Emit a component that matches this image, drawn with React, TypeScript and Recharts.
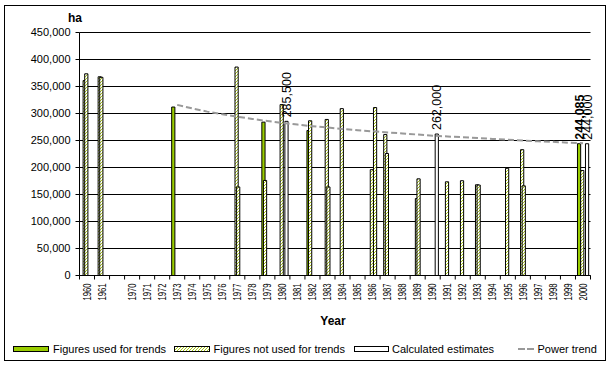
import React from 'react';
import { ComposedChart, Bar, Line, XAxis, YAxis, CartesianGrid, LabelList, Label } from 'recharts';

// ---------- data ----------
const categories: string[] = [
  '1960', '1961', '', '1970', '1971', '1972', '1973', '1974', '1975', '1976', '1977', '1978',
  '1979', '1980', '1981', '1982', '1983', '1984', '1985', '1986', '1987', '1988', '1989',
  '1990', '1991', '1992', '1993', '1994', '1995', '1996', '1997', '1998', '1999', '2000',
];

// Figures used for trends (green)
const usedForTrends: [string, number][] = [
  ['1973', 312000], ['1979', 284000], ['1982', 268500], ['2000', 244085],
];

// Figures not used for trends (hatched), several sources per year
const notUsedA: [string, number][] = [
  ['1960', 361000], ['1961', 368000], ['1979', 176000], ['1982', 286500], ['1987', 261000],
];
const notUsedB: [string, number][] = [
  ['1960', 373500], ['1961', 367000], ['1977', 386000], ['1980', 316500], ['1983', 289000],
  ['1984', 309000], ['1986', 196000], ['1987', 226000], ['1989', 142500], ['1991', 173500],
  ['1992', 175500], ['1993', 168000], ['1995', 198500], ['1996', 233000], ['2000', 194500],
];
const notUsedC: [string, number][] = [
  ['1977', 164000], ['1983', 164000], ['1989', 179000], ['1993', 167500], ['1996', 166000],
];
const notUsedD: [string, number][] = [
  ['1986', 311000],
];

// Calculated estimates (white)
const calculatedEstimates: [string, number][] = [
  ['1980', 285500], ['1990', 262000], ['2000', 244000],
];

// Power trend
const powerTrend: [string, number][] = [
  ['1973', 316000], ['1974', 309500], ['1975', 303500], ['1976', 298500], ['1977', 294000],
  ['1978', 290000], ['1979', 286000], ['1980', 282500], ['1981', 279500], ['1982', 276500],
  ['1983', 274000], ['1984', 271500], ['1985', 269000], ['1986', 267000], ['1987', 265000],
  ['1988', 263000], ['1989', 261000], ['1990', 259000], ['1991', 257500], ['1992', 256000],
  ['1993', 254500], ['1994', 253000], ['1995', 251500], ['1996', 250000], ['1997', 248500],
  ['1998', 247500], ['1999', 246000], ['2000', 245000],
];

// Data labels
const usedLabels: [string, string][] = [['2000', '244,085']];
const calcLabels: [string, string][] = [['1980', '285,500'], ['1990', '262,000'], ['2000', '244,000']];

const yTicks: number[] = [0, 50000, 100000, 150000, 200000, 250000, 300000, 350000, 400000, 450000];

function lookup<T>(list: [string, T][], key: string): T | null {
  if (!key) return null;
  const f = list.find((e) => e[0] === key);
  return f ? f[1] : null;
}

const data = categories.map((c) => ({
  year: c,
  used: lookup(usedForTrends, c),
  nuA: lookup(notUsedA, c),
  nuB: lookup(notUsedB, c),
  nuC: lookup(notUsedC, c),
  nuD: lookup(notUsedD, c),
  calc: lookup(calculatedEstimates, c),
  trend: lookup(powerTrend, c),
  usedLabel: lookup(usedLabels, c),
  calcLabel: lookup(calcLabels, c),
}));

// ---------- layout / style ----------
const FONT = 'Arial, "Liberation Sans", Helvetica, sans-serif';
const W = 613;
const H = 365;
const PLOT_LEFT = 79.5;
const PLOT_RIGHT = 590.5;
const PLOT_TOP = 32.5;
const PLOT_BOTTOM = 275.5;
const X_AXIS_H = 30;
const BAND = (PLOT_RIGHT - PLOT_LEFT) / categories.length;
const GREEN = '#99cc00';
const TREND = '#999999';
const BAR_SIZE = 3.2;

const XTick = (props: any) => {
  const { x, payload, index } = props;
  const label = payload ? payload.value : '';
  const half = BAND / 2;
  const ty = PLOT_BOTTOM + 8;
  return (
    <g>
      <line x1={x - half} x2={x - half} y1={PLOT_BOTTOM} y2={PLOT_BOTTOM + 4} stroke="#000" />
      {index === categories.length - 1 ? (
        <line x1={x + half} x2={x + half} y1={PLOT_BOTTOM} y2={PLOT_BOTTOM + 4} stroke="#000" />
      ) : null}
      {label ? (
        <text
          x={x}
          y={ty}
          transform={`rotate(-90 ${x} ${ty})`}
          textAnchor="end"
          dy={3.7}
          fontSize={10.5}
          textLength={17}
          lengthAdjust="spacingAndGlyphs"
          fontFamily={FONT}
          fill="#000"
        >
          {label}
        </text>
      ) : null}
    </g>
  );
};

const makeValueLabel = (bold: boolean) => (props: any) => {
  const { value } = props;
  if (value === null || value === undefined || value === '') return null;
  const vb = props.viewBox || props;
  const x = vb.x ?? props.x;
  const y = vb.y ?? props.y;
  const width = vb.width ?? props.width;
  const cx = x + width / 2;
  const by = y - 4;
  return (
    <text
      x={cx}
      y={by}
      transform={`rotate(-90 ${cx} ${by})`}
      textAnchor="start"
      dy={4.5}
      fontSize={12.5}
      fontWeight={bold ? 'bold' : 'normal'}
      fontFamily={FONT}
      fill="#000"
    >
      {value}
    </text>
  );
};

const renderHa = (props: any) => {
  const vb = props.viewBox || {};
  return (
    <text x={vb.x + vb.width - 11.5} y={vb.y - 10.5} fontSize={12} fontWeight="bold" fontFamily={FONT} fill="#000">
      ha
    </text>
  );
};

const renderYear = (props: any) => {
  const vb = props.viewBox || {};
  return (
    <text x={vb.x + vb.width / 2 - 2} y={vb.y + 49.5} textAnchor="middle" fontSize={12} fontWeight="bold" fontFamily={FONT} fill="#000">
      Year
    </text>
  );
};

const fmt = (v: number) => v.toLocaleString('en-US');

export default function App() {
  return (
    <div style={{ position: 'absolute', left: 0, top: 0, width: W, height: H, background: '#fff' }}>
      <svg width={0} height={0} style={{ position: 'absolute' }}>
        <defs>
          <pattern id="hatch" patternUnits="userSpaceOnUse" width={3} height={3}>
            <rect x={0} y={0} width={3} height={3} fill="#ffffff" />
            <path d="M0,3 L3,0 M-1,1 L1,-1 M2,4 L4,2" stroke="#a8c814" strokeWidth={1} />
          </pattern>
        </defs>
      </svg>
      <div
        style={{
          position: 'absolute',
          left: 4,
          top: 5,
          width: 602,
          height: 356,
          boxSizing: 'border-box',
          border: '1px solid #000',
        }}
      />
      <div style={{ position: 'absolute', left: 0, top: 0 }}>
        <ComposedChart
          width={W}
          height={H}
          data={data}
          margin={{ top: PLOT_TOP, right: W - PLOT_RIGHT, bottom: H - PLOT_BOTTOM - X_AXIS_H, left: 0 }}
          barSize={BAR_SIZE}
          barGap={-1.6}
        >
          <CartesianGrid vertical={false} stroke="#000" />
          <XAxis
            dataKey="year"
            interval={0}
            height={X_AXIS_H}
            tickLine={false}
            tickSize={4}
            tickMargin={0}
            axisLine={{ stroke: '#000' }}
            tick={(p: any) => <XTick {...p} />}
            label={<Label content={renderYear} />}
          />
          <YAxis
            width={PLOT_LEFT}
            domain={[0, 450000]}
            ticks={yTicks}
            interval={0}
            tickFormatter={fmt}
            tickSize={4}
            tickMargin={5}
            axisLine={{ stroke: '#000' }}
            tickLine={{ stroke: '#000' }}
            tick={{ fontSize: 11, fill: '#000', fontFamily: FONT }}
            label={<Label content={renderHa} />}
          />
          <Bar dataKey="used" fill={GREEN} stroke="#000" strokeWidth={1} barSize={BAR_SIZE} isAnimationActive={false}>
            <LabelList dataKey="usedLabel" content={makeValueLabel(true)} />
          </Bar>
          <Bar dataKey="nuA" fill="url(#hatch)" stroke="#000" strokeWidth={1} barSize={BAR_SIZE} isAnimationActive={false} />
          <Bar dataKey="nuB" fill="url(#hatch)" stroke="#000" strokeWidth={1} barSize={BAR_SIZE} isAnimationActive={false} />
          <Bar dataKey="nuC" fill="url(#hatch)" stroke="#000" strokeWidth={1} barSize={BAR_SIZE} isAnimationActive={false} />
          <Bar dataKey="nuD" fill="url(#hatch)" stroke="#000" strokeWidth={1} barSize={BAR_SIZE} isAnimationActive={false} />
          <Bar dataKey="calc" fill="#ffffff" stroke="#000" strokeWidth={1} barSize={BAR_SIZE} isAnimationActive={false}>
            <LabelList dataKey="calcLabel" content={makeValueLabel(false)} />
          </Bar>
          <Line
            dataKey="trend"
            type="linear"
            stroke={TREND}
            strokeWidth={2}
            strokeDasharray="6 3"
            dot={false}
            activeDot={false}
            isAnimationActive={false}
          />
        </ComposedChart>
      </div>
      <svg width={W} height={H} style={{ position: 'absolute', left: 0, top: 0, pointerEvents: 'none' }}>
        <g fontFamily={FONT} fontSize={11} fill="#000">
          <rect x={13.5} y={346.5} width={35} height={5} fill={GREEN} stroke="#000" />
          <text x={53} y={353}>Figures used for trends</text>
          <rect x={174.5} y={346.5} width={35} height={5} fill="url(#hatch)" stroke="#000" />
          <text x={213.5} y={353}>Figures not used for trends</text>
          <rect x={354.5} y={346.5} width={34} height={5} fill="#ffffff" stroke="#000" />
          <text x={392} y={353}>Calculated estimates</text>
          <line x1={518} x2={534} y1={349} y2={349} stroke={TREND} strokeWidth={2} strokeDasharray="7 2" />
          <text x={537.5} y={353}>Power trend</text>
        </g>
      </svg>
    </div>
  );
}
